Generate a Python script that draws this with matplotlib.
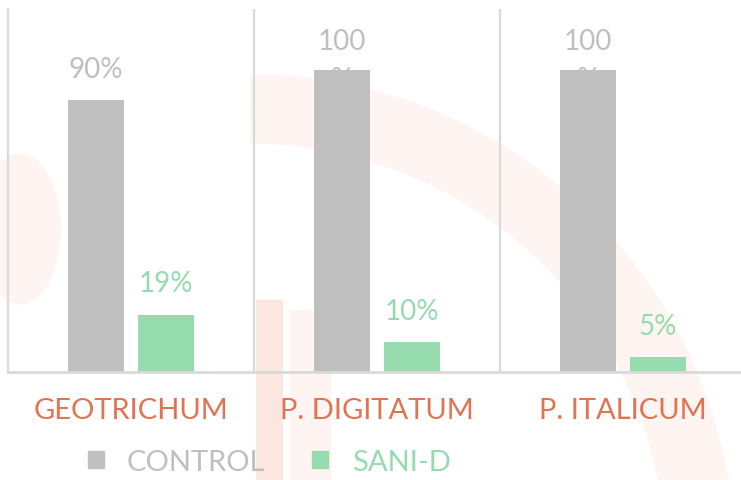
import numpy as np
import matplotlib.pyplot as plt
from matplotlib.patches import Patch, Circle, Arc, Rectangle, Ellipse

categories = ["GEOTRICHUM", "P. DIGITATUM", "P. ITALICUM"]
control = [90, 100, 100]
sani_d = [19, 10, 5]
control_labels = ["90%", "100\n%", "100\n%"]
sani_labels = ["19%", "10%", "5%"]

gray = "#bfbfbf"
green = "#95dbad"
orange = "#e07352"
grid_col = "#d9d9d9"

plt.rcParams['font.family'] = ['Lato', 'DejaVu Sans']

W, H = 741, 481
fig = plt.figure(figsize=(W / 100, H / 100), dpi=100)

# faint watermark in the background (pixel coords, y measured from top)
def px(x, y):
    return (x / W, 1 - y / H)

wm = "#fef4f1"
wm2 = "#fce6e0"
tf = fig.transFigure
fig.patches.append(Circle(px(390, -100), 140 / W, transform=tf, color=wm, zorder=-5))
fig.patches.append(Arc(px(250, 560), 2 * 450 / W, 2 * 450 / H, theta1=8, theta2=90,
                       transform=tf, lw=50, color=wm, zorder=-5))
fig.patches.append(Ellipse(px(20, 230), 80 / W, 150 / H, transform=tf, color=wm, zorder=-5))
fig.patches.append(Rectangle(px(256, 481), 26 / W, 180 / H, transform=tf, color=wm2, zorder=-4))
fig.patches.append(Rectangle(px(290, 481), 40 / W, 170 / H, transform=tf, color=wm, zorder=-5))

ax = fig.add_axes([8 / W, 108 / H, 738 / W, 363 / H])
ax.patch.set_alpha(0)

x = np.arange(len(categories))
bw = 0.228
off = 0.142
b1 = ax.bar(x - off, control, bw, color=gray, zorder=2)
b2 = ax.bar(x + off, sani_d, bw, color=green, zorder=2)

for rect, lab in zip(b1, control_labels):
    dy = -16 if "\n" in lab else 13
    ax.annotate(lab, (rect.get_x() + rect.get_width() / 2, rect.get_height()),
                xytext=(0, dy), textcoords="offset points", ha="center", va="bottom",
                color=gray, fontsize=20, linespacing=1.55, zorder=1)
for rect, lab in zip(b2, sani_labels):
    ax.annotate(lab, (rect.get_x() + rect.get_width() / 2, rect.get_height()),
                xytext=(0, 13), textcoords="offset points", ha="center", va="bottom",
                color=green, fontsize=20, zorder=1)

ax.set_xlim(-0.5, 2.5)
ax.set_ylim(0, 120)
for xv in [0.5, 1.5]:
    ax.axvline(xv, color=grid_col, lw=1.6, zorder=1)

for s in ["top", "right"]:
    ax.spines[s].set_visible(False)
ax.spines["left"].set_color(grid_col)
ax.spines["left"].set_linewidth(1.6)
ax.spines["bottom"].set_color(grid_col)
ax.spines["bottom"].set_linewidth(2)

ax.set_yticks([])
ax.set_xticks(x)
ax.set_xticklabels(categories, color=orange, fontsize=21)
ax.tick_params(axis="x", length=0, pad=18)

handles = [Patch(color=gray), Patch(color=green)]
leg = fig.legend(handles, ["CONTROL", "SANI-D"], loc="center", bbox_to_anchor=(269 / W, 1 - 463 / H),
                 ncol=2, frameon=False, fontsize=21, handlelength=0.55, handleheight=0.55,
                 columnspacing=1.6, handletextpad=0.8)
for t, c in zip(leg.get_texts(), [gray, green]):
    t.set_color(c)

fig.savefig("out.png", dpi=100)
